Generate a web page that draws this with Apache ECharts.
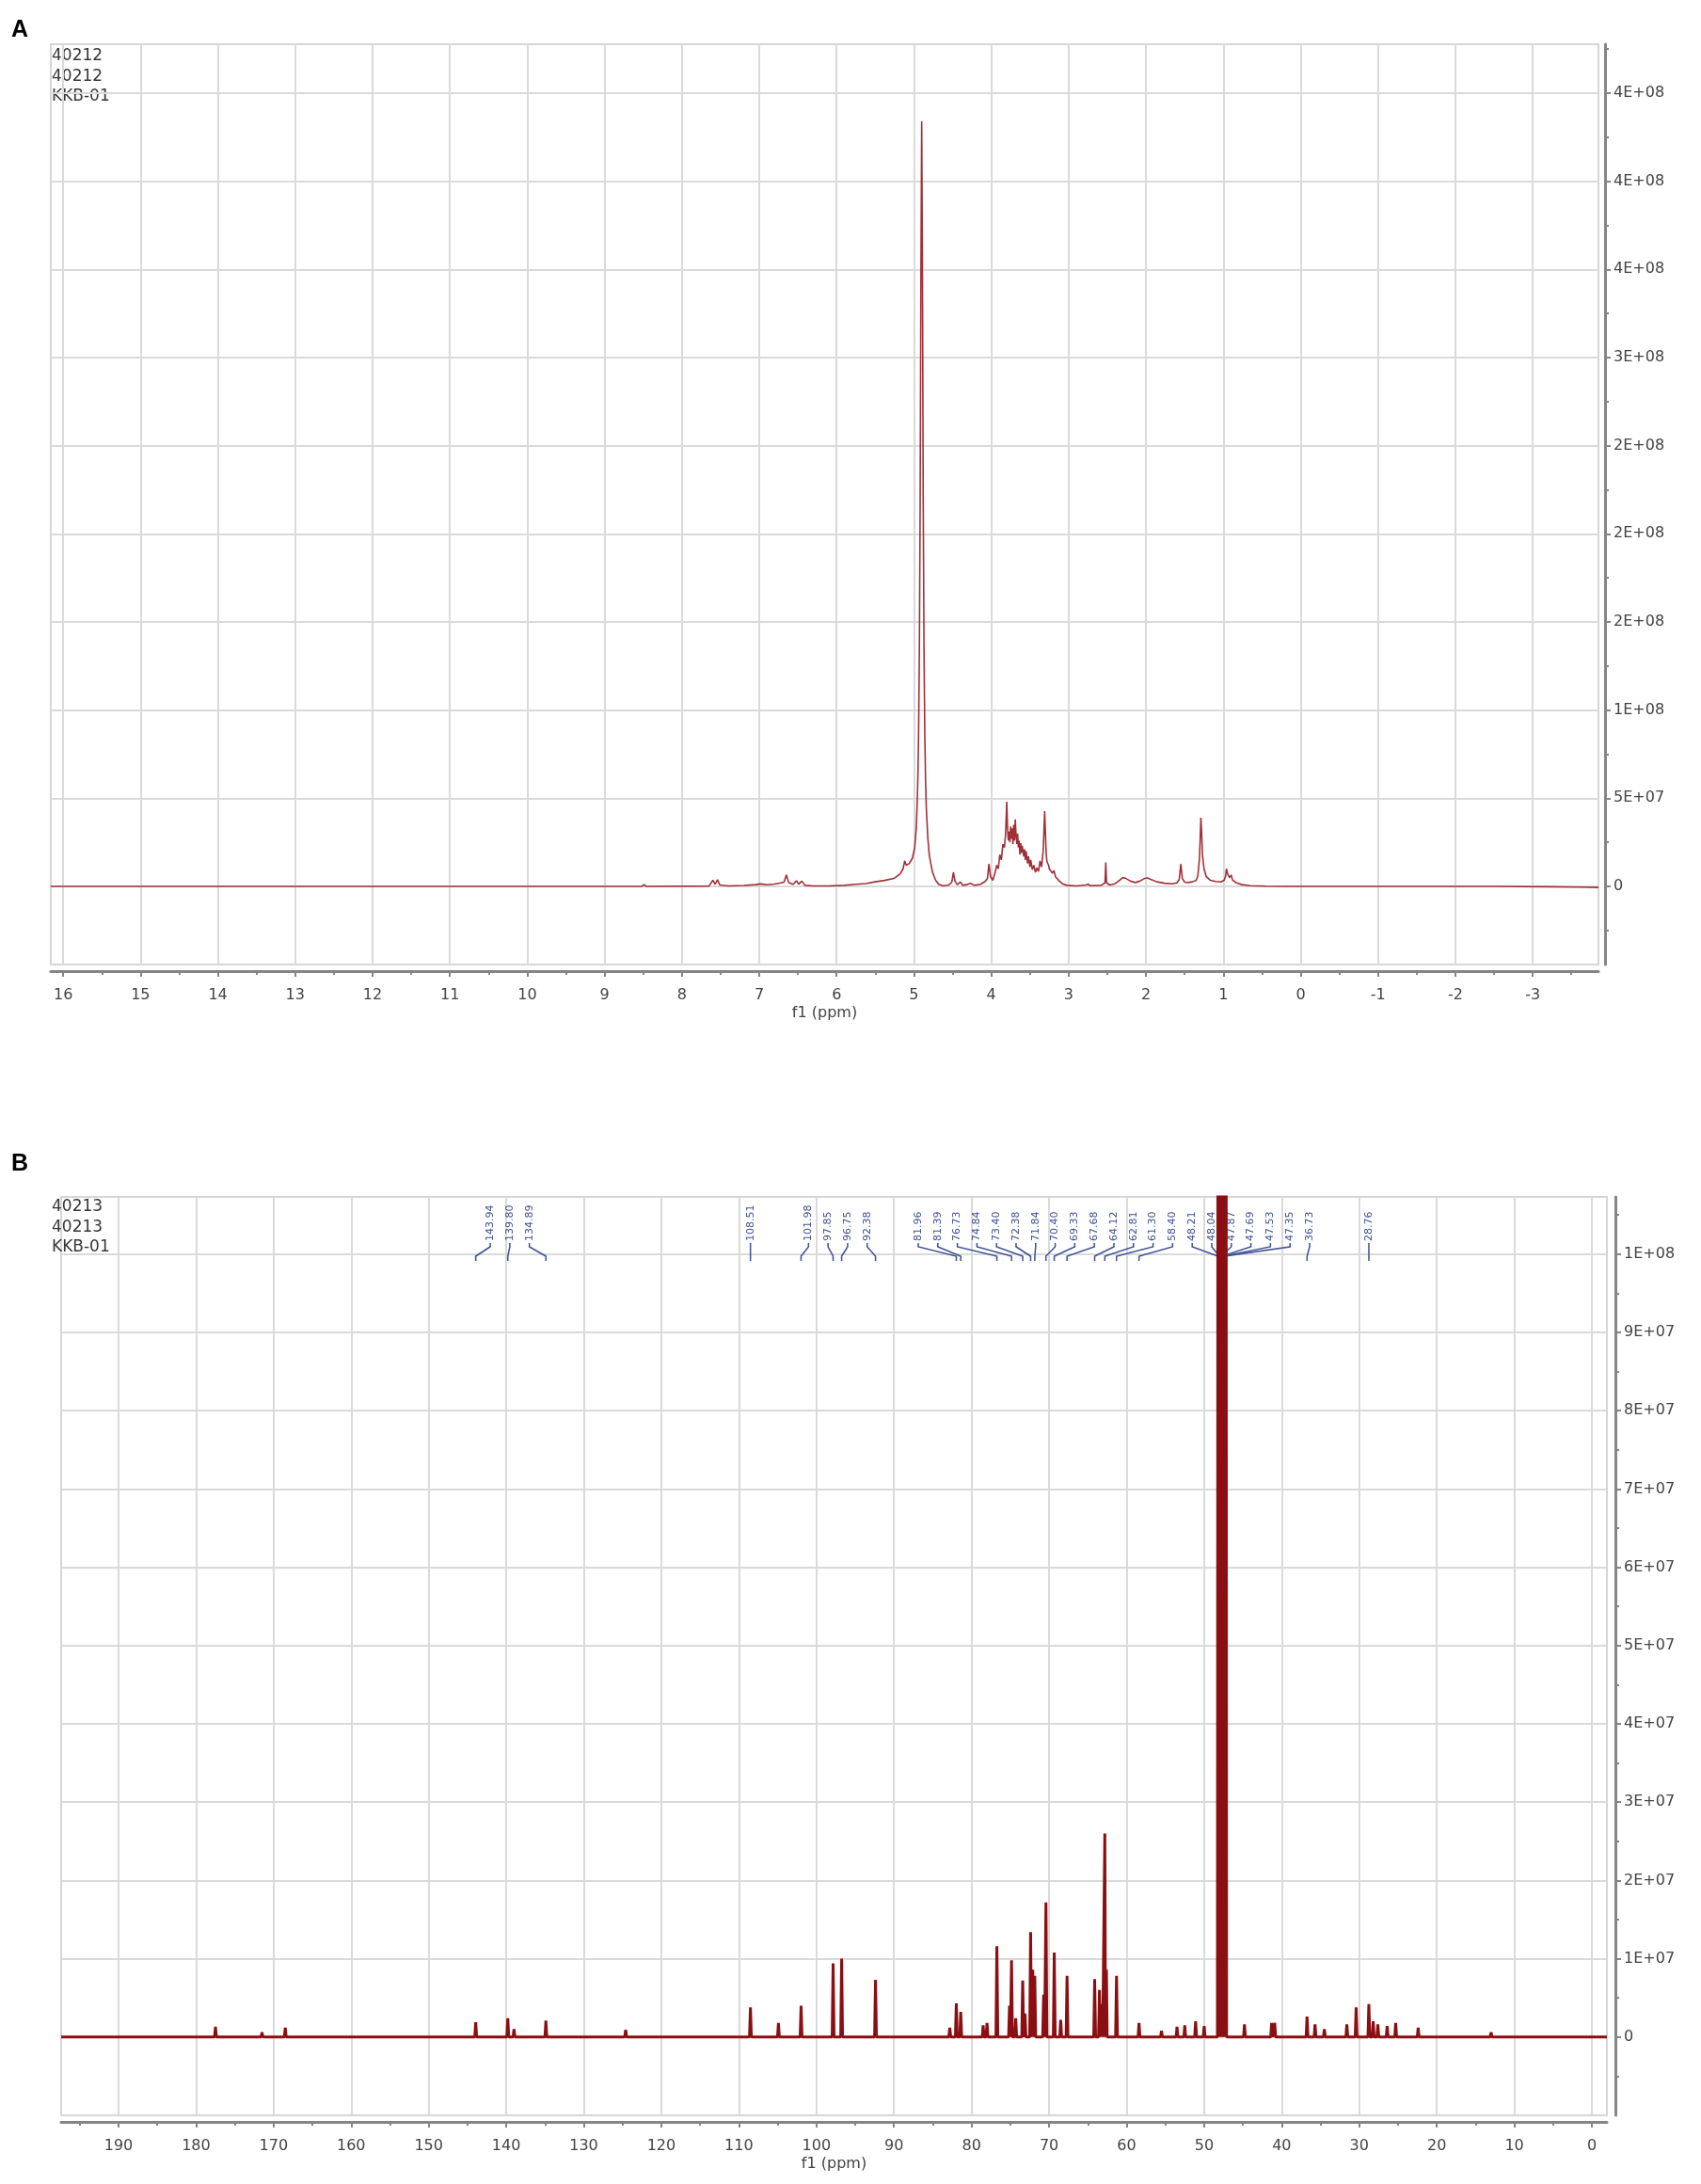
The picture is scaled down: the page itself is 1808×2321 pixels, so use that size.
<!DOCTYPE html>
<html><head><meta charset="utf-8">
<script src="https://cdn.jsdelivr.net/npm/echarts@6/dist/echarts.min.js"></script>
<style>html,body{margin:0;padding:0;background:#fff}#c{width:1808px;height:2321px}</style>
</head><body><div id="c"></div><script>
// ---------- Panel A : 1H spectrum ----------
const H_PPM = [16.16,9.2,8.52,8.49,8.46,7.65,7.60,7.57,7.54,7.51,7.40,7.20,7.05,6.98,6.90,6.80,6.72,6.68,6.65,6.62,6.56,6.52,6.49,6.45,6.41,6.30,6.10,5.90,5.75,5.62,5.50,5.38,5.26,5.18,5.14,5.12,5.10,5.06,5.02,4.99,4.97,4.96,4.95,4.94,4.93,4.92,4.91,4.90,4.89,4.88,4.87,4.86,4.85,4.84,4.82,4.80,4.76,4.72,4.68,4.62,4.55,4.51,4.49,4.47,4.44,4.40,4.37,4.32,4.27,4.22,4.14,4.08,4.05,4.03,4.01,3.98,3.95,3.93,3.91,3.89,3.87,3.85,3.83,3.815,3.80,3.79,3.78,3.77,3.76,3.75,3.74,3.73,3.72,3.71,3.70,3.69,3.68,3.67,3.66,3.65,3.64,3.63,3.62,3.61,3.60,3.58,3.57,3.56,3.55,3.53,3.52,3.50,3.49,3.47,3.45,3.43,3.41,3.39,3.37,3.35,3.33,3.32,3.31,3.30,3.29,3.28,3.26,3.25,3.23,3.21,3.19,3.17,3.15,3.12,3.08,3.02,2.90,2.78,2.75,2.72,2.58,2.53,2.52,2.51,2.47,2.40,2.34,2.30,2.26,2.20,2.14,2.08,2.02,1.98,1.94,1.86,1.76,1.66,1.60,1.57,1.55,1.53,1.50,1.45,1.40,1.35,1.33,1.31,1.30,1.29,1.28,1.27,1.25,1.22,1.17,1.10,1.03,0.99,0.97,0.96,0.94,0.92,0.90,0.88,0.83,0.76,0.65,0.45,0.20,-1.0,-2.5,-3.2,-3.6,-3.85];
const H_INT = [0,0,0,1.0e6,0,0.2e6,3.5e6,1.2e6,3.8e6,0.8e6,0.3e6,0.5e6,1.0e6,1.4e6,0.9e6,1.3e6,2.0e6,2.4e6,6.5e6,2.2e6,1.2e6,3.2e6,1.3e6,3.0e6,0.6e6,0.3e6,0.3e6,0.6e6,1.2e6,1.6e6,2.6e6,3.4e6,4.5e6,7.0e6,1.0e7,1.45e7,1.2e7,1.3e7,1.6e7,2.2e7,3.3e7,4.5e7,6.0e7,8.7e7,1.34e8,2.17e8,3.47e8,4.34e8,3.47e8,2.17e8,1.34e8,8.7e7,6.0e7,4.4e7,2.7e7,1.7e7,8.0e6,3.5e6,1.2e6,0.3e6,0.8e6,2.5e6,8.0e6,3.0e6,1.0e6,2.5e6,0.6e6,1.0e6,1.8e6,0.6e6,1.2e6,2.8e6,4.5e6,1.27e7,5.5e6,3.5e6,8.0e6,1.2e7,1.0e7,1.8e7,1.5e7,2.4e7,2.2e7,3.0e7,4.8e7,3.3e7,2.6e7,3.1e7,2.5e7,3.4e7,2.7e7,3.3e7,2.4e7,3.5e7,2.6e7,3.8e7,2.9e7,2.4e7,3.0e7,2.2e7,2.6e7,1.8e7,2.45e7,1.9e7,2.3e7,1.7e7,2.1e7,1.5e7,2.0e7,1.3e7,1.7e7,1.1e7,1.5e7,9.5e6,1.2e7,8.0e6,1.05e7,8.5e6,1.45e7,1.1e7,2.0e7,3.0e7,4.27e7,3.0e7,1.8e7,1.4e7,1.2e7,1.0e7,1.1e7,7.5e6,9.0e6,5.5e6,6.0e6,3.0e6,1.5e6,0.6e6,0.3e6,0.8e6,1.2e6,0.4e6,0.6e6,2.0e6,1.36e7,2.0e6,0.8e6,1.5e6,3.5e6,5.0e6,4.5e6,3.0e6,2.2e6,3.0e6,4.5e6,4.8e6,4.0e6,2.6e6,1.8e6,1.5e6,2.0e6,4.0e6,1.27e7,4.5e6,2.4e6,2.2e6,2.6e6,3.5e6,6.0e6,1.5e7,2.6e7,3.9e7,3.0e7,1.8e7,1.0e7,5.5e6,3.5e6,2.8e6,2.5e6,3.5e6,6.0e6,1.0e7,6.5e6,5.0e6,6.5e6,3.5e6,2.0e6,1.0e6,0.4e6,0.1e6,0,0,0,-2e5,-4e5,-6e5];
const A_X_TICKS = [16,15,14,13,12,11,10,9,8,7,6,5,4,3,2,1,0,-1,-2,-3];
const A_X_MINOR = [15.5,14.5,13.5,12.5,11.5,10.5,9.5,8.5,7.5,6.5,5.5,4.5,3.5,2.5,1.5,0.5,-0.5,-1.5,-2.5,-3.5];
const A_Y_TICKS = [0,5e7,1e8,1.5e8,2e8,2.5e8,3e8,3.5e8,4e8,4.5e8];
const A_Y_LABELS = ['0','5E+07','1E+08','2E+08','2E+08','2E+08','3E+08','4E+08','4E+08','4E+08'];
const A_Y_MINOR = [-2.5e7,2.5e7,7.5e7,1.25e8,1.75e8,2.25e8,2.75e8,3.25e8,3.75e8,4.25e8,4.75e8];
const A_HEADER = ['40212','40212','KKB-01'];

// ---------- Panel B : 13C spectrum ----------
const C_PEAK_PPM = [177.5,171.5,168.5,143.94,139.80,139.0,134.89,124.6,108.51,104.9,101.98,97.85,96.75,92.38,82.8,81.96,81.39,78.5,78.0,76.73,75.1,74.84,74.3,73.40,73.1,72.38,72.1,71.84,70.7,70.40,69.33,68.5,67.68,64.12,63.5,63.2,62.81,62.6,61.30,58.40,55.5,53.5,52.5,51.1,50.0,48.21,48.04,47.87,47.69,47.53,47.35,47.18,44.8,41.3,40.9,36.73,35.7,34.5,31.6,30.4,28.76,28.2,27.6,26.4,25.3,22.4,13.0];
const C_PEAK_INT = [1.3e6,0.6e6,1.2e6,1.9e6,2.4e6,1.0e6,2.1e6,0.9e6,3.8e6,1.8e6,4.0e6,9.4e6,1.0e7,7.3e6,1.2e6,4.3e6,3.2e6,1.5e6,1.8e6,1.16e7,4.0e6,9.8e6,2.4e6,7.2e6,3.0e6,1.34e7,8.6e6,7.8e6,5.4e6,1.72e7,1.08e7,2.2e6,7.8e6,7.4e6,6.0e6,4.2e6,2.6e7,8.6e6,7.8e6,1.8e6,0.8e6,1.3e6,1.5e6,2.0e6,1.4e6,1.6e8,4.5e8,9.0e8,1.05e9,9.0e8,4.5e8,1.6e8,1.6e6,1.8e6,1.8e6,2.6e6,1.6e6,1.0e6,1.6e6,3.8e6,4.2e6,2.0e6,1.6e6,1.4e6,1.8e6,1.2e6,0.6e6];
const C_LABEL_PPM = [143.94,139.80,134.89,108.51,101.98,97.85,96.75,92.38,81.96,81.39,76.73,74.84,73.40,72.38,71.84,70.40,69.33,67.68,64.12,62.81,61.30,58.40,48.21,48.04,47.87,47.69,47.53,47.35,36.73,28.76];
const B_X_TICKS = [190,180,170,160,150,140,130,120,110,100,90,80,70,60,50,40,30,20,10,0];
const B_X_MINOR = [195,185,175,165,155,145,135,125,115,105,95,85,75,65,55,45,35,25,15,5];
const B_Y_TICKS = [0,1e7,2e7,3e7,4e7,5e7,6e7,7e7,8e7,9e7,1e8];
const B_Y_LABELS = ['0','1E+07','2E+07','3E+07','4E+07','5E+07','6E+07','7E+07','8E+07','9E+07','1E+08'];
const B_Y_MINOR = [-5e6,5e6,1.5e7,2.5e7,3.5e7,4.5e7,5.5e7,6.5e7,7.5e7,8.5e7,9.5e7,1.05e8];
const B_HEADER = ['40213','40213','KKB-01'];

// ---------- build ----------
const FONT = '"DejaVu Sans", Verdana, sans-serif';
const TXT = '#434343';
const hData = H_PPM.map((p, i) => [p, H_INT[i]]);
const cData = [[197.4, 0]];
C_PEAK_PPM.forEach((p, i) => {
  const prev = i > 0 ? C_PEAK_PPM[i - 1] : 999;
  const next = i < C_PEAK_PPM.length - 1 ? C_PEAK_PPM[i + 1] : -999;
  const w = Math.min(0.12, (prev - p) * 0.45, (p - next) * 0.45);
  cData.push([p + w, 0], [p, C_PEAK_INT[i]], [p - w, 0]);
});
cData.push([-1.94, 0]);

const GRID = [
  {left: 54, top: 47, width: 1645, height: 978},
  {left: 65, top: 1272, width: 1643, height: 976}
];
const AX = '#858585';
function majorX(g, min, max, ticks) {
  return {type: 'value', gridIndex: g, inverse: true, min, max, position: 'bottom', offset: 7,
    name: 'f1 (ppm)', nameLocation: 'middle', nameGap: 37,
    nameTextStyle: {color: TXT, fontSize: 16, fontFamily: FONT},
    axisLine: {show: true, onZero: false, lineStyle: {color: AX, width: 3}},
    axisTick: {show: true, customValues: ticks, length: 6, lineStyle: {color: AX, width: 2}},
    axisLabel: {show: true, customValues: ticks, margin: 18, color: TXT, fontSize: 16, fontFamily: FONT},
    splitLine: {show: true, lineStyle: {color: '#dadada', width: 2}}};
}
function minorX(g, min, max, ticks) {
  return {type: 'value', gridIndex: g, inverse: true, min, max, position: 'bottom', offset: 7,
    axisLine: {show: false, onZero: false},
    axisTick: {show: true, customValues: ticks, length: 4, lineStyle: {color: AX, width: 2}},
    axisLabel: {show: false}, splitLine: {show: false}};
}
function majorY(g, min, max, ticks, labels, off) {
  return {type: 'value', gridIndex: g, min, max, position: 'right', offset: off,
    axisLine: {show: true, onZero: false, lineStyle: {color: AX, width: 3}},
    axisTick: {show: true, customValues: ticks, length: 6, lineStyle: {color: AX, width: 2}},
    axisLabel: {show: true, customValues: ticks, margin: 9, color: TXT, fontSize: 16, fontFamily: FONT,
      formatter: v => { const i = ticks.findIndex(t => Math.abs(t - v) < 1); return i < 0 ? '' : labels[i]; }},
    splitLine: {show: true, lineStyle: {color: '#dadada', width: 2}}};
}
function minorY(g, min, max, ticks, off) {
  return {type: 'value', gridIndex: g, min, max, position: 'right', offset: off,
    axisLine: {show: false, onZero: false},
    axisTick: {show: true, customValues: ticks, length: 4, lineStyle: {color: AX, width: 2}},
    axisLabel: {show: false}, splitLine: {show: false}};
}
function headerTexts(lines, x, y0) {
  return lines.map((t, i) => ({type: 'text', x: x, y: y0 + i * 21.5,
    style: {text: t, font: '17px ' + FONT, fill: '#363636', verticalAlign: 'middle'}}));
}

const option = {
  animation: false,
  backgroundColor: '#fff',
  grid: GRID.map(g => Object.assign({show: true, borderColor: '#d6d6d6', borderWidth: 2, backgroundColor: '#fff'}, g)),
  xAxis: [
    majorX(0, -3.85, 16.16, A_X_TICKS), minorX(0, -3.85, 16.16, A_X_MINOR),
    majorX(1, -1.94, 197.4, B_X_TICKS), minorX(1, -1.94, 197.4, B_X_MINOR)
  ],
  yAxis: [
    majorY(0, -4.43e7, 4.777e8, A_Y_TICKS, A_Y_LABELS, 7), minorY(0, -4.43e7, 4.777e8, A_Y_MINOR, 7),
    majorY(1, -1e7, 1.073e8, B_Y_TICKS, B_Y_LABELS, 9), minorY(1, -1e7, 1.073e8, B_Y_MINOR, 9)
  ],
  graphic: [
    {type: 'text', x: 12, y: 32, style: {text: 'A', font: 'bold 25px "Liberation Sans", Arial, sans-serif', fill: '#000', verticalAlign: 'middle'}},
    {type: 'text', x: 12, y: 1237, style: {text: 'B', font: 'bold 25px "Liberation Sans", Arial, sans-serif', fill: '#000', verticalAlign: 'middle'}}
  ].concat(headerTexts(A_HEADER, 55, 60), headerTexts(B_HEADER, 55, 1283)),
  series: [
    {type: 'line', name: '1H', xAxisIndex: 0, yAxisIndex: 0, data: hData, showSymbol: false, clip: true,
      lineStyle: {color: '#a03038', width: 1.6}, z: 3},
    {type: 'custom', id: 'labels', xAxisIndex: 2, yAxisIndex: 2, data: [], z: 1,
      renderItem: function (params, api) {
        const p = api.value(0), l = api.value(1), i = api.value(2);
        const y0 = params.coordSys.y;
        const px = api.coord([p, 0])[0], lx = api.coord([l, 0])[0];
        return {type: 'group', children: [
          {type: 'text', x: lx, y: y0 + 47, rotation: Math.PI / 2,
            style: {text: C_LABEL_PPM[i].toFixed(2), fill: '#3d4f93', font: '11px ' + FONT, align: 'left', verticalAlign: 'middle'}},
          {type: 'polyline', shape: {points: [[lx, y0 + 49], [lx, y0 + 53], [px, y0 + 63], [px, y0 + 68]]},
            style: {stroke: '#3d4f93', lineWidth: 1.5, fill: null}}
        ]};
      }},
    {type: 'line', name: '13C', xAxisIndex: 2, yAxisIndex: 2, data: cData, showSymbol: false, clip: true,
      lineStyle: {color: '#8b0f12', width: 3}, z: 3}
  ]
};

const chart = echarts.init(document.getElementById('c'));
chart.setOption(option);

// spread peak labels (label layout, as the NMR software does)
(function () {
  const px = C_LABEL_PPM.map(p => chart.convertToPixel({xAxisIndex: 2}, p));
  const S = 20.8, G = 50;
  const groups = [];
  let cur = [0];
  for (let i = 1; i < px.length; i++) {
    if (px[i] - px[i - 1] < G) cur.push(i); else { groups.push(cur); cur = [i]; }
  }
  groups.push(cur);
  const lab = new Array(px.length);
  let prevEnd = -Infinity;
  groups.forEach(g => {
    const mean = g.reduce((s, i) => s + px[i], 0) / g.length;
    let start = mean - (g.length - 1) * S / 2;
    if (start < prevEnd + S) start = prevEnd + S;
    g.forEach((i, k) => { lab[i] = start + k * S; });
    prevEnd = lab[g[g.length - 1]];
  });
  const data = C_LABEL_PPM.map((p, i) => [p, chart.convertFromPixel({xAxisIndex: 2}, lab[i]), i]);
  chart.setOption({series: [{id: 'labels', data: data}]});
})();
</script></body></html>
